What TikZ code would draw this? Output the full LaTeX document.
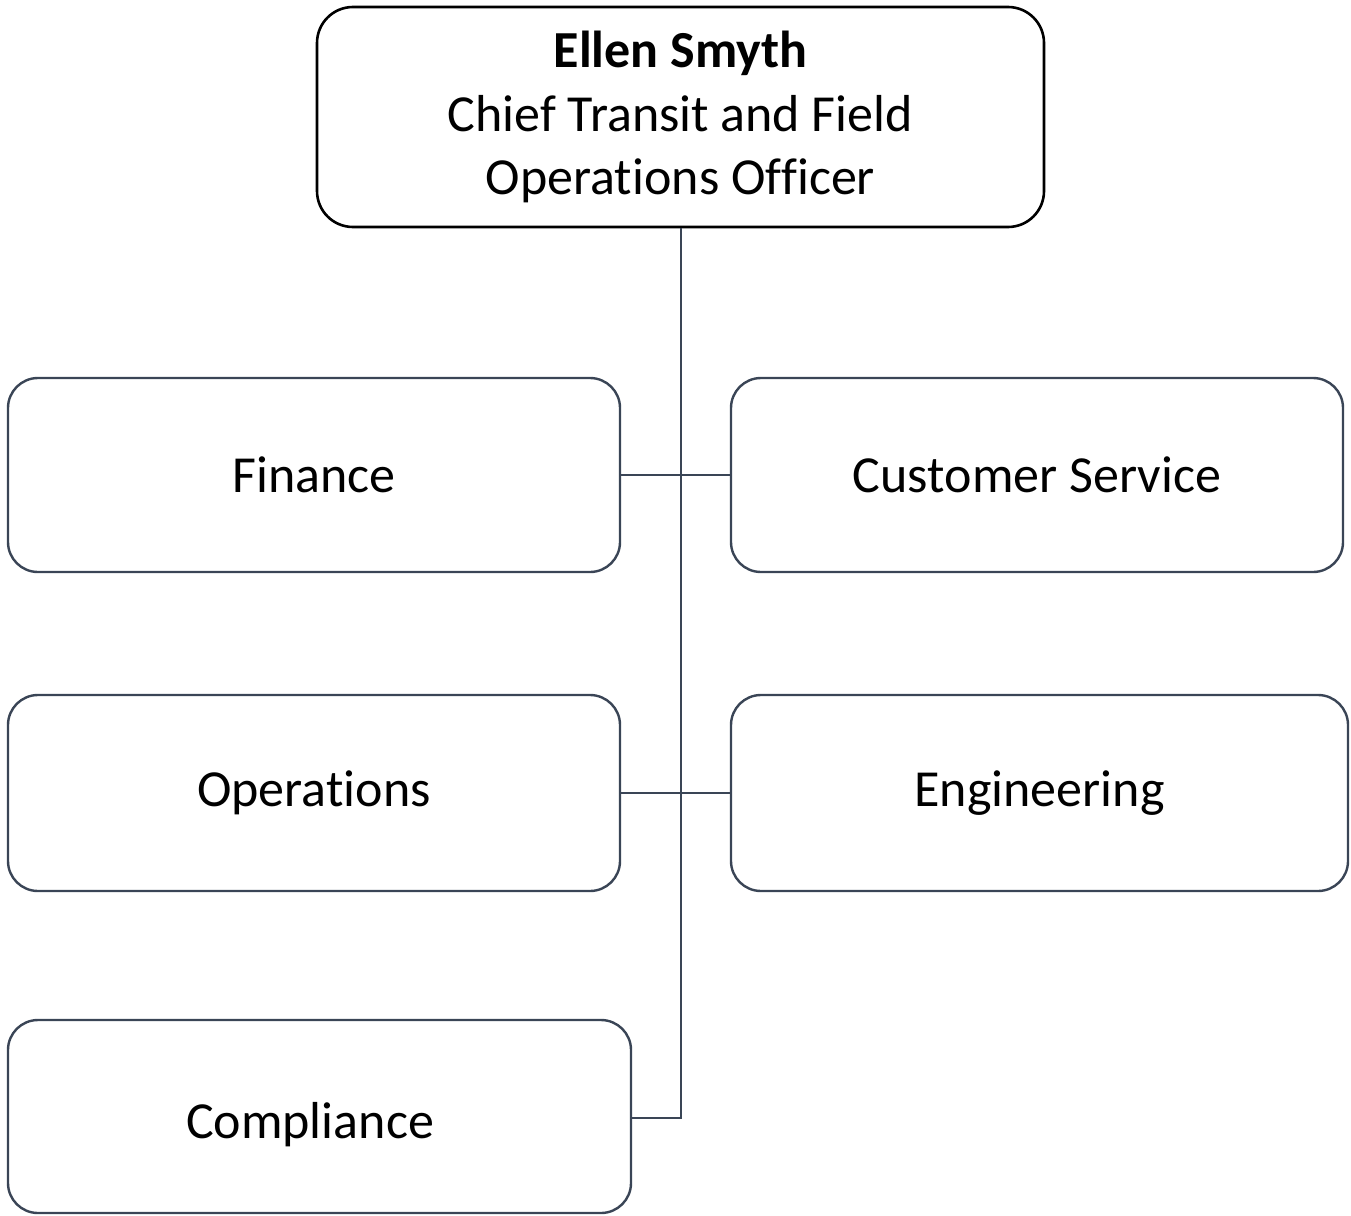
\documentclass[tikz,border=0pt]{standalone}
\usepackage{fontspec}
\setmainfont[Ligatures={NoCommon,NoRequired,NoContextual}]{Carlito}
\definecolor{slate}{HTML}{3A4556}
\newcommand{\nolig}{\kern0pt{}}
\begin{document}
\begin{tikzpicture}[x=1pt,y=-1pt,
  every node/.style={font=\fontsize{52}{63.5}\selectfont},
  topbox/.style={draw=black, line width=2.6pt, rounded corners=36pt, align=center, inner sep=0pt},
  unitbox/.style={draw=slate, line width=2.4pt, rounded corners=30pt, inner sep=0pt},
  link/.style={draw=slate, line width=2.4pt}]
\useasboundingbox (0,0) rectangle (1351,1215);
\node[topbox, minimum width=727pt, minimum height=220pt] (chief) at (680.5,117)
  {\textbf{Ellen Smyth}\\Chief Transit and Field\\Operat\nolig ions Of\nolig f\nolig icer};
\node[unitbox, minimum width=612pt, minimum height=194pt] (fin) at (314,475) {Finance};
\node[unitbox, minimum width=612pt, minimum height=194pt] (cs) at (1037,475) {Customer Service};
\node[unitbox, minimum width=612pt, minimum height=196pt] (ops) at (314,793) {Operat\nolig ions};
\node[unitbox, minimum width=617pt, minimum height=196pt] (eng) at (1039.5,793) {Engineering};
\node[unitbox, minimum width=623pt, minimum height=193pt,
  label={[xshift=-9.5pt,yshift=-8pt]center:Compliance}] (comp) at (319.5,1116.5) {};
\coordinate (spine) at (681,1118);
\draw[link] (chief.south -| spine) -- (spine) -- (comp.east |- spine);
\draw[link] (fin.east) -- (cs.west);
\draw[link] (ops.east) -- (eng.west);
\end{tikzpicture}
\end{document}
